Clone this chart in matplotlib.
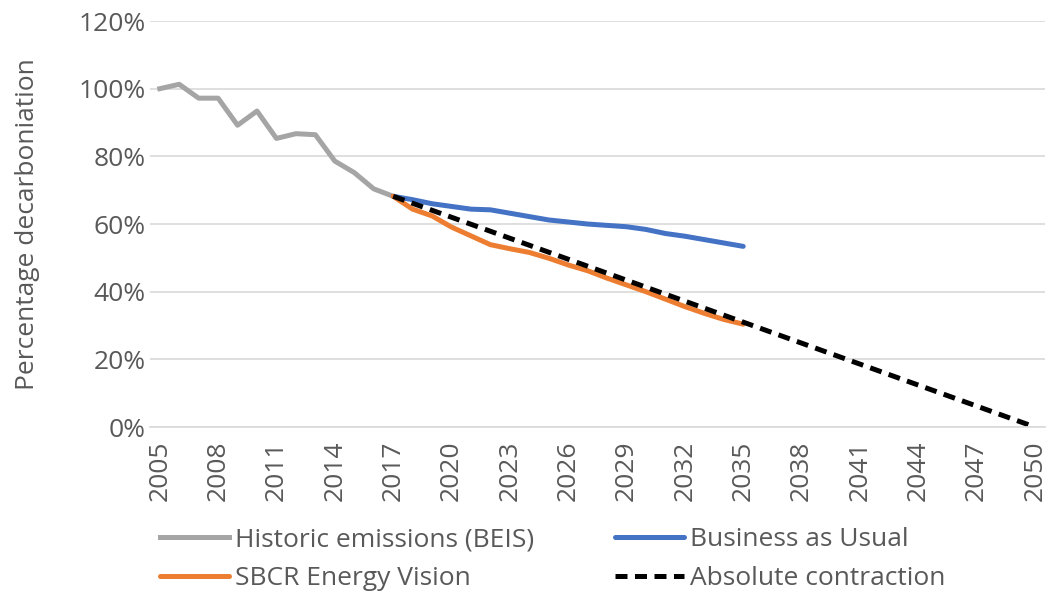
import numpy as np
import matplotlib.pyplot as plt

plt.rcParams['font.family'] = ['Open Sans', 'DejaVu Sans']

hist_years = np.arange(2005, 2018)
hist = [100, 101.3, 97.2, 97.2, 89.2, 93.4, 85.3, 86.7, 86.4, 78.6, 75.2, 70.4, 68.2]

proj_years = np.arange(2017, 2036)
bau = [68.2, 67.2, 66.0, 65.2, 64.4, 64.2, 63.2, 62.2, 61.2, 60.6, 60.0, 59.6, 59.2,
       58.4, 57.2, 56.4, 55.4, 54.4, 53.4]
sbcr = [68.2, 64.4, 62.4, 59.1, 56.5, 53.9, 52.7, 51.6, 49.9, 47.9, 46.2, 44.0, 42.0,
        40.0, 37.8, 35.6, 33.6, 31.8, 30.4]

contr_years = [2017, 2050]
contr = [68.2, 0]

fig = plt.figure(figsize=(10.5, 5.94), dpi=100)
ax = fig.add_axes([0.1429, 0.2811, 0.852, 0.6835])

lw = 3.6
h1, = ax.plot(hist_years, np.array(hist) / 100, color='#A5A5A5', lw=lw,
              label='Historic emissions (BEIS)', solid_joinstyle='round')
h2, = ax.plot(proj_years, np.array(bau) / 100, color='#4472C4', lw=lw, label='Business as Usual',
              solid_capstyle='round', solid_joinstyle='round')
h3, = ax.plot(proj_years, np.array(sbcr) / 100, color='#ED7D31', lw=lw, label='SBCR Energy Vision',
              solid_capstyle='round', solid_joinstyle='round')
h4, = ax.plot(contr_years, np.array(contr) / 100, color='black', lw=lw, ls=(0, (2.4, 1.5)),
              label='Absolute contraction')

ax.set_xlim(2004.5, 2050.5)
ax.set_ylim(0, 1.2)
ax.set_yticks(np.arange(0, 1.21, 0.2))
ax.set_yticklabels([f'{int(round(v * 100))}%' for v in np.arange(0, 1.21, 0.2)])
ax.set_xticks(np.arange(2005, 2051, 3))
ax.set_xticklabels([str(y) for y in range(2005, 2051, 3)], rotation=90)
ax.tick_params(length=0, labelsize=19, colors='#595959')
ax.tick_params(axis='x', pad=10)
ax.tick_params(axis='y', pad=3)
ax.grid(axis='y', color='#D9D9D9', lw=1.2)
ax.set_axisbelow(True)
for s in ['top', 'right', 'left']:
    ax.spines[s].set_visible(False)
ax.spines['bottom'].set_color('#D9D9D9')
ax.spines['bottom'].set_linewidth(1.2)

ax.set_ylabel('Percentage decarboniation', fontsize=19, color='#595959', labelpad=28)

leg_kw = dict(loc='center left', frameon=False, fontsize=19, handlelength=2.6,
              handletextpad=0.25, labelspacing=0.52, labelcolor='#595959',
              borderaxespad=0, borderpad=0)
fig.legend(handles=[h1, h3], bbox_to_anchor=(160 / 1050, 35 / 594), **leg_kw)
fig.legend(handles=[h2, h4], bbox_to_anchor=(615 / 1050, 35 / 594), **leg_kw)

fig.savefig('out.png', dpi=100)
